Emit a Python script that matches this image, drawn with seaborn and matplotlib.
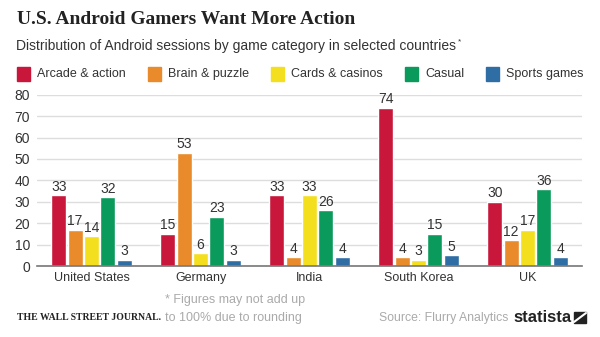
import matplotlib
matplotlib.use("Agg")
import matplotlib.pyplot as plt
import seaborn as sns
import pandas as pd
from matplotlib.patches import Rectangle
from matplotlib.lines import Line2D

countries = ["United States", "Germany", "India", "South Korea", "UK"]
categories = ["Arcade & action", "Brain & puzzle", "Cards & casinos", "Casual", "Sports games"]
arcade = [33, 15, 33, 74, 30]
brain = [17, 53, 4, 4, 12]
cards = [14, 6, 33, 3, 17]
casual = [32, 23, 26, 15, 36]
sports = [3, 3, 4, 5, 4]
yticks = [0, 10, 20, 30, 40, 50, 60, 70, 80]
colors = ["#C8173A", "#E98B2A", "#F4DF1E", "#0A9A5C", "#2F6EA5"]

rows = []
for cat, vals in zip(categories, [arcade, brain, cards, casual, sports]):
    for c, v in zip(countries, vals):
        rows.append({"country": c, "category": cat, "value": v})
df = pd.DataFrame(rows)

sns.set_theme(style="white")
plt.rcParams["font.family"] = ["Liberation Sans", "DejaVu Sans"]

fig = plt.figure(figsize=(6, 3.37), dpi=100)
ax = fig.add_axes([37/600, 1-266/337, (582-37)/600, (266-94.7)/337])

sns.barplot(data=df, x="country", y="value", hue="category", order=countries,
            hue_order=categories, palette=colors, width=0.75, gap=0.1,
            saturation=1, ax=ax, legend=False, errorbar=None)

for cont in ax.containers:
    ax.bar_label(cont, fmt="%d", padding=1, fontsize=10, color="#333333")

ax.set_ylim(0, 80)
ax.set_xlim(-0.5, 4.5)
ax.set_yticks(yticks)
ax.set_yticklabels([str(t) for t in yticks], fontsize=10, color="#333333")
ax.set_xticks(range(len(countries)))
ax.set_xticklabels(countries, fontsize=9, color="#333333")
ax.tick_params(axis="x", length=0, pad=4)
ax.tick_params(axis="y", length=0, pad=5)
ax.set_xlabel("")
ax.set_ylabel("")
ax.grid(axis="y", color="#DDDDDD", linewidth=1)
ax.set_axisbelow(True)
for s in ["top", "right", "left"]:
    ax.spines[s].set_visible(False)
ax.spines["bottom"].set_color("#777777")
ax.spines["bottom"].set_linewidth(1.2)

# Title and subtitle
fig.text(17/600, 1-19/337, "U.S. Android Gamers Want More Action", fontsize=14,
         fontweight="bold", family=["Liberation Serif", "DejaVu Serif"], color="#222222",
         va="center", ha="left")
fig.text(16/600, 1-46/337, "Distribution of Android sessions by game category in selected countries",
         fontsize=10, color="#333333", va="center", ha="left")
fig.text(458/600, 1-42/337, "*", fontsize=6, color="#333333", va="center", ha="left")

# Legend
leg_x = [17, 148, 271, 405, 486]
for x, cat, col in zip(leg_x, categories, colors):
    fig.patches.append(Rectangle((x/600, 1-81/337), 13/600, 14/337,
                                 transform=fig.transFigure, color=col))
    fig.text((x + 20)/600, 1-74/337, cat, fontsize=9, color="#333333",
             va="center", ha="left")

# Footer
fig.text(17/600, 1-318/337, "THE WALL STREET JOURNAL.", fontsize=7, fontweight="bold",
         family=["Liberation Serif", "DejaVu Serif"], color="#222222", va="center",
         ha="left")
fig.text(165/600, 1-300/337, "* Figures may not add up", fontsize=9, color="#AAAAAA",
         va="center", ha="left")
fig.text(165/600, 1-318/337, "to 100% due to rounding", fontsize=9, color="#AAAAAA",
         va="center", ha="left")
fig.text(379/600, 1-318/337, "Source: Flurry Analytics", fontsize=8.8, color="#AAAAAA",
         va="center", ha="left")
fig.text(513/600, 1-317/337, "statista", fontsize=12, fontweight="bold", color="#222222",
         va="center", ha="left")
fig.patches.append(Rectangle((574/600, 1-323/337), 12/600, 11/337,
                             transform=fig.transFigure, color="#222222"))
fig.lines.append(Line2D([574/600, 586/600], [1-322/337, 1-313/337],
                        transform=fig.transFigure, color="white", linewidth=1.5))

fig.savefig("out.png", dpi=100)
